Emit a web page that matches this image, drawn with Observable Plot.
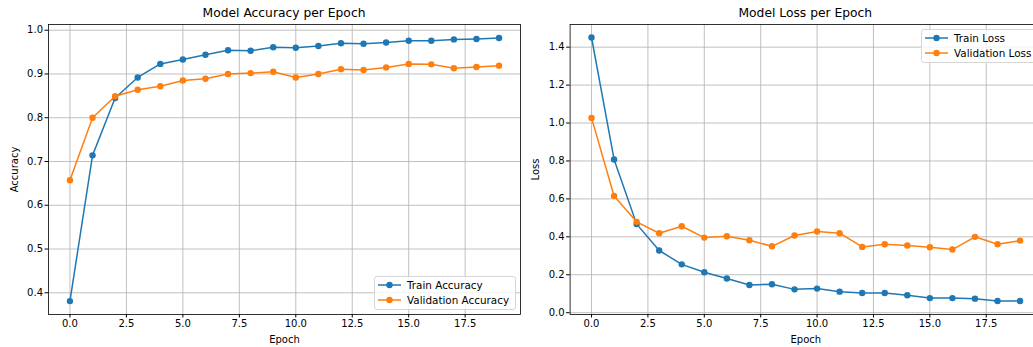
<!DOCTYPE html>
<html><head><meta charset="utf-8">
<script src="https://cdn.jsdelivr.net/npm/d3@7"></script>
<script src="https://cdn.jsdelivr.net/npm/@observablehq/plot@0.6"></script>
<style>
body{margin:0;background:#fff;}
#wrap{position:relative;width:1033px;height:347px;overflow:hidden;font-family:"DejaVu Sans",sans-serif;color:#000;background:#fff;}
.panel{position:absolute;top:0;}
.title{position:absolute;top:6px;font-size:12.3px;transform:translateX(-50%);white-space:nowrap;}
.legend{position:absolute;background:rgba(255,255,255,0.8);border:1px solid #d6d6d6;border-radius:3px;font-size:10.4px;box-sizing:border-box;}
.legend .row{position:absolute;left:3px;height:12px;display:flex;align-items:center;white-space:nowrap;}
.legend .row span{margin-left:6px;}
</style></head><body><div id="wrap"></div>
<script>
const epochs = [0,1,2,3,4,5,6,7,8,9,10,11,12,13,14,15,16,17,18,19];
const trainAcc = [0.381,0.714,0.845,0.892,0.923,0.933,0.944,0.954,0.953,0.961,0.960,0.964,0.970,0.969,0.972,0.976,0.976,0.979,0.980,0.982];
const valAcc = [0.657,0.800,0.849,0.864,0.872,0.885,0.889,0.900,0.902,0.905,0.892,0.900,0.911,0.909,0.915,0.923,0.922,0.913,0.916,0.919];
const trainLoss = [1.451,0.808,0.467,0.328,0.255,0.213,0.180,0.146,0.150,0.123,0.127,0.111,0.104,0.104,0.092,0.077,0.077,0.074,0.062,0.062];
const valLoss = [1.027,0.615,0.479,0.419,0.456,0.396,0.403,0.382,0.350,0.407,0.428,0.419,0.347,0.361,0.354,0.345,0.333,0.400,0.361,0.380];
const xTicks = [0,2.5,5,7.5,10,12.5,15,17.5];
const accTicks = [0.4,0.5,0.6,0.7,0.8,0.9,1.0];
const lossTicks = [0,0.2,0.4,0.6,0.8,1.0,1.2,1.4];
const blue = "#1f77b4", orange = "#ff7f0e";

const wrap = document.getElementById("wrap");

function panel({left, width, marginLeft, marginRight, yDomain, yTicks, yLabel, series, title, legend}) {
  const marks = [
    Plot.gridX(xTicks, {stroke: "#b0b0b0", strokeOpacity: 0.8, strokeWidth: 1}),
    Plot.gridY(yTicks, {stroke: "#b0b0b0", strokeOpacity: 0.8, strokeWidth: 1})
  ];
  for (const s of series) {
    const data = epochs.map((e, i) => ({epoch: e, value: s.values[i]}));
    marks.push(Plot.line(data, {x: "epoch", y: "value", stroke: s.color, strokeWidth: 1.5}));
    marks.push(Plot.dot(data, {x: "epoch", y: "value", fill: s.color, r: 3.2}));
  }
  marks.push(Plot.frame({stroke: "#000", strokeWidth: 0.8}));
  marks.push(Plot.axisX(xTicks, {tickSize: 3.5, tickPadding: 2, tickFormat: d3.format(".1f"), label: "Epoch", labelAnchor: "center", labelOffset: 28, labelArrow: false}));
  marks.push(Plot.axisY(yTicks, {tickSize: 3.5, tickPadding: 2, tickFormat: d3.format(".1f"), label: yLabel, labelAnchor: "center", labelOffset: 38, labelArrow: false}));
  const svg = Plot.plot({
    width, height: 347, marginLeft, marginRight, marginTop: 24, marginBottom: 33,
    style: {fontFamily: "DejaVu Sans", fontSize: "10px", color: "#000", background: "transparent", overflow: "visible"},
    x: {domain: [-0.95, 19.95]},
    y: {domain: yDomain},
    marks
  });
  svg.classList.add("panel");
  svg.style.left = left + "px";
  wrap.appendChild(svg);

  const frameCenter = left + marginLeft + (width - marginLeft - marginRight) / 2;
  const t = document.createElement("div");
  t.className = "title";
  t.style.left = frameCenter + "px";
  t.textContent = title;
  wrap.appendChild(t);

  const lg = document.createElement("div");
  lg.className = "legend";
  Object.assign(lg.style, legend.box);
  series.forEach((s, i) => {
    const row = document.createElement("div");
    row.className = "row";
    row.style.top = (2 + i * 15) + "px";
    row.innerHTML = `<svg width="23" height="12"><line x1="0" x2="23" y1="6" y2="6" stroke="${s.color}" stroke-width="1.5"/><circle cx="11.5" cy="6" r="3.2" fill="${s.color}"/></svg><span>${s.name}</span>`;
    lg.appendChild(row);
  });
  wrap.appendChild(lg);
}

panel({
  left: 0, width: 525, marginLeft: 48, marginRight: 5,
  yDomain: [0.3504, 1.013], yTicks: accTicks, yLabel: "Accuracy",
  title: "Model Accuracy per Epoch",
  series: [{name: "Train Accuracy", values: trainAcc, color: blue}, {name: "Validation Accuracy", values: valAcc, color: orange}],
  legend: {box: {left: "374px", top: "276px", width: "142px", height: "34px"}}
});
panel({
  left: 520, width: 525, marginLeft: 49.6, marginRight: 4,
  yDomain: [-0.0095, 1.5195], yTicks: lossTicks, yLabel: "Loss",
  title: "Model Loss per Epoch",
  series: [{name: "Train Loss", values: trainLoss, color: blue}, {name: "Validation Loss", values: valLoss, color: orange}],
  legend: {box: {left: "921px", top: "29px", width: "115px", height: "34px"}}
});
</script></body></html>
